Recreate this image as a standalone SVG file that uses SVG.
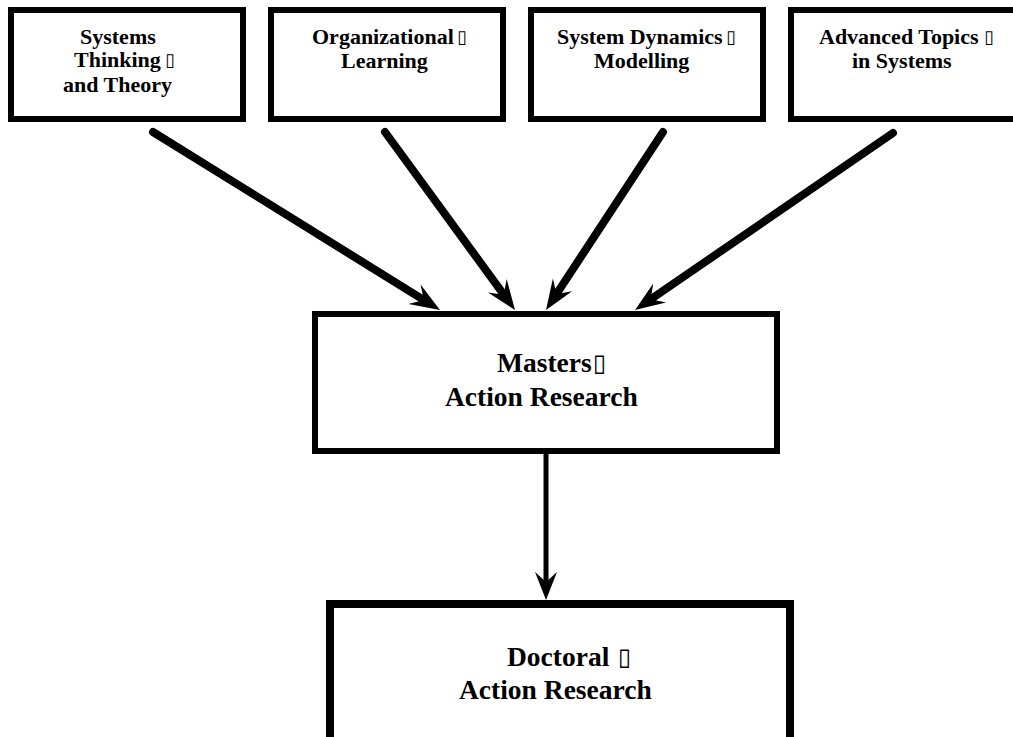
<svg xmlns="http://www.w3.org/2000/svg" width="1013" height="737" viewBox="0 0 1013 737">
  <style>
    .box { fill: #ffffff; stroke: #000000; stroke-width: 6; }
    .box-thick { fill: #ffffff; stroke: #000000; stroke-width: 8; }
    .label { font-family: "Liberation Serif", "Times New Roman", serif; font-weight: bold; fill: #000000; }
    .small { font-size: 22px; }
    .large { font-size: 27.5px; }
    .sq { font-family: "DejaVu Sans", sans-serif; font-weight: normal; fill: #000000; }
    .link { stroke: #000000; stroke-width: 8; stroke-linecap: round; fill: none; marker-end: url(#head); }
    .link-v { stroke: #000000; stroke-width: 5; fill: none; marker-end: url(#head-v); }
  </style>
  <defs>
    <!-- stealth-style arrowheads, tip at the far end -->
    <marker id="head" markerUnits="userSpaceOnUse" markerWidth="31" markerHeight="24" refX="14" refY="12" orient="auto" viewBox="0 0 31 24">
      <path d="M30,12 L0,0.5 L11,12 L0,23.5 Z" fill="#000000"/>
    </marker>
    <marker id="head-v" markerUnits="userSpaceOnUse" markerWidth="29" markerHeight="24" refX="12" refY="12" orient="auto" viewBox="0 0 29 24">
      <path d="M28,12 L0,1 L10,12 L0,23 Z" fill="#000000"/>
    </marker>
  </defs>

  <rect width="1013" height="737" fill="#ffffff"/>

  <!-- course nodes -->
  <g id="systems-thinking">
    <rect class="box" x="11" y="10" width="232" height="109"/>
    <text class="label small"><tspan x="80" y="44">Systems</tspan><tspan x="74" y="67">Thinking</tspan><tspan class="sq" font-size="18" x="165" y="66">▯</tspan><tspan x="63" y="92">and Theory</tspan></text>
  </g>
  <g id="organizational-learning">
    <rect class="box" x="271" y="10" width="232" height="109"/>
    <text class="label small"><tspan x="312" y="44">Organizational</tspan><tspan class="sq" font-size="18" x="457" y="43">▯</tspan><tspan x="341" y="68">Learning</tspan></text>
  </g>
  <g id="system-dynamics">
    <rect class="box" x="531" y="10" width="232" height="109"/>
    <text class="label small"><tspan x="557" y="44">System Dynamics</tspan><tspan class="sq" font-size="18" x="726" y="43">▯</tspan><tspan x="594" y="68">Modelling</tspan></text>
  </g>
  <g id="advanced-topics">
    <rect class="box" x="791" y="10" width="232" height="109"/>
    <text class="label small"><tspan x="819" y="44">Advanced Topics</tspan><tspan class="sq" font-size="18" x="984" y="43">▯</tspan><tspan x="852" y="68">in Systems</tspan></text>
  </g>

  <!-- research nodes -->
  <g id="masters-action-research">
    <rect class="box" x="315" y="314" width="462" height="137"/>
    <text class="label large"><tspan x="497" y="372">Masters</tspan><tspan class="sq" font-size="24" x="593" y="371">▯</tspan><tspan x="445" y="406">Action Research</tspan></text>
  </g>
  <g id="doctoral-action-research">
    <rect class="box-thick" x="330" y="604" width="460" height="200"/>
    <text class="label large"><tspan x="507" y="666">Doctoral</tspan><tspan class="sq" font-size="24" x="618" y="665">▯</tspan><tspan x="459" y="699">Action Research</tspan></text>
  </g>

  <!-- connectors -->
  <g id="connectors">
    <line class="link" x1="153" y1="132" x2="426.4" y2="301.6"/>
    <line class="link" x1="385" y1="132" x2="505.6" y2="297.1"/>
    <line class="link" x1="663" y1="132" x2="554.8" y2="296.6"/>
    <line class="link" x1="893" y1="133" x2="648.2" y2="301"/>
    <line class="link-v" x1="546" y1="454" x2="546" y2="584"/>
  </g>
</svg>
